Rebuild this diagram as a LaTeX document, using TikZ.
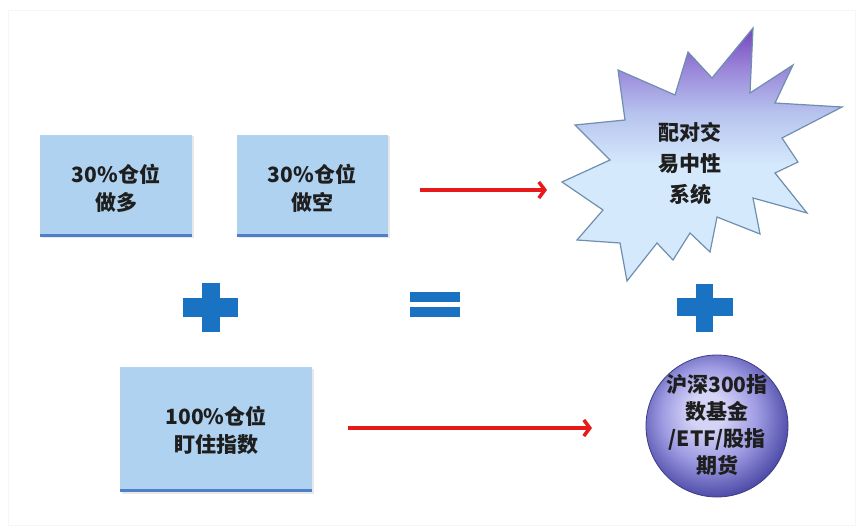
\documentclass[tikz,border=0pt]{standalone}
\usepackage{fontspec}
\newfontfamily\cjk{Noto Sans CJK SC}
\usetikzlibrary{arrows.meta,shadows}
\definecolor{boxfill}{HTML}{AED2F0}
\definecolor{boxedge}{HTML}{4F7FC8}
\definecolor{plusblue}{HTML}{1A72C2}
\definecolor{arrred}{HTML}{E8191B}
\definecolor{starlb}{HTML}{D4E9FB}
\definecolor{starmid}{HTML}{B7C4EE}
\definecolor{starpu2}{HTML}{9A86DA}
\definecolor{starpu}{HTML}{7446BC}
\definecolor{staredge}{HTML}{6F8FAE}
\definecolor{sph1}{HTML}{D6D4F6}
\definecolor{sph2}{HTML}{9D9AE2}
\definecolor{sph3}{HTML}{4C4AA6}
\definecolor{txt}{HTML}{1E1E1E}
\pgfdeclareverticalshading{starshade}{100bp}{color(0bp)=(starlb); color(48bp)=(starlb); color(58bp)=(starmid); color(67bp)=(starpu2); color(75bp)=(starpu); color(100bp)=(starpu)}
\pgfdeclareradialshading{sphshade}{\pgfpoint{-4bp}{6bp}}{color(0bp)=(sph1); color(6bp)=(sph1); color(17bp)=(sph2); color(28bp)=(sph3); color(50bp)=(sph3)}
\tikzset{
  txtstyle/.style={text=txt, align=center, font=\cjk\bfseries\fontsize{21}{28}\selectfont},
  bluebox/.style={fill=boxfill, draw=none, drop shadow={opacity=0.18, shadow xshift=1.5pt, shadow yshift=-1.5pt}},
  boxbottom/.style={draw=boxedge, line width=2.5pt},
  plusbar/.style={fill=plusblue, draw=none},
  redarrow/.style={draw=arrred, line width=3.5pt, -{Straight Barb[length=6pt,width=16pt]}},
}
\begin{document}
\begin{tikzpicture}[x=1pt,y=-1pt]
\useasboundingbox (0,0) rectangle (861,529);
% faint frame
\draw[black!4, line width=0.8pt] (8,10) rectangle (855,525);

% boxes
\path[bluebox] (40,135) rectangle (192,237);
\draw[boxbottom] (40,235.5) -- (192,235.5);
\node[txtstyle] (box1) at (116,188) {30\%仓位\\做多};

\path[bluebox] (237,135) rectangle (388,237);
\draw[boxbottom] (237,235.5) -- (388,235.5);
\node[txtstyle] (box2) at (312,188) {30\%仓位\\做空};

\path[bluebox] (120,367) rectangle (312,492);
\draw[boxbottom] (120,490.5) -- (312,490.5);
\node[txtstyle] (box3) at (216,430) {100\%仓位\\盯住指数};

% plus left
\path[plusbar] (183,298) rectangle (238,317);
\path[plusbar] (202,283) rectangle (220,332);
% equals
\path[plusbar] (410,292) rectangle (460,302);
\path[plusbar] (410,306.5) rectangle (460,317);
% plus right
\path[plusbar] (677,298) rectangle (733,315.5);
\path[plusbar] (696,284) rectangle (713,332);

% star
\shade[shading=starshade, draw=staredge, line width=1.2pt, line join=miter]
  (753,28) -- (750,93) -- (793,65) -- (775,103) -- (842,107) -- (782,138)
  -- (798,162) -- (775,173) -- (807,213) -- (753,198) -- (760,234) -- (717,217)
  -- (710,252) -- (690,233) -- (673,260) -- (657,243) -- (627,281) -- (620,243)
  -- (577,240) -- (603,210) -- (562,182) -- (610,160) -- (575,125) -- (625,120)
  -- (618,70) -- (675,95) -- (688,52) -- (712,78) -- cycle;
\node[txtstyle, font=\cjk\bfseries\fontsize{21}{31}\selectfont] (star) at (690,163) {配对交\\易中性\\系统};

% sphere
\shade[shading=sphshade, draw=sph3!80!black, line width=0.8pt] (717,426) circle (71);
\node[txtstyle, font=\cjk\bfseries\fontsize{21}{27}\selectfont] (sphere) at (717,425) {沪深300指\\数基金\\/ETF/股指\\期货};

% arrows
\coordinate (a1s) at (420,190);
\coordinate (a1e) at (547,190);
\coordinate (a2s) at (348,428);
\coordinate (a2e) at (592,428);
\draw[redarrow] (a1s) -- (a1e);
\draw[redarrow] (a2s) -- (a2e);
\end{tikzpicture}
\end{document}
